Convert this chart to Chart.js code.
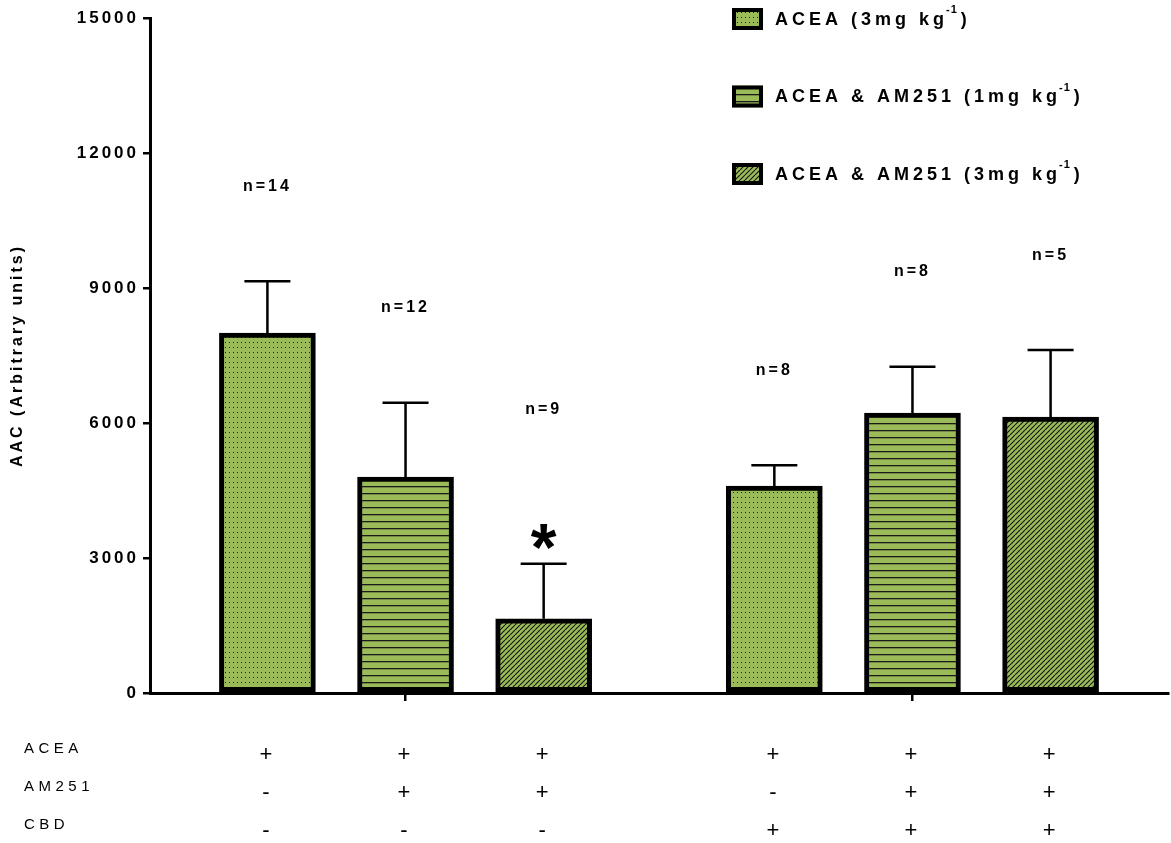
<!DOCTYPE html>
<html>
<head>
<meta charset="utf-8">
<script src="https://cdn.jsdelivr.net/npm/chart.js@4/dist/chart.umd.min.js"></script>
<style>
  html, body { margin: 0; padding: 0; background: #fff; }
  #wrap { width: 1171px; height: 843px; }
</style>
</head>
<body>
<div id="wrap"><canvas id="chart"></canvas></div>
<script>
const doseLabels = ['ACEA (3mg kg⁻¹)', 'ACEA & AM251 (1mg kg⁻¹)', 'ACEA & AM251 (3mg kg⁻¹)']
// bar positions on the x axis: three bars without CBD, then three with CBD
const barPositions = [1, 2, 3, 4.67, 5.67, 6.67]
const groupCentres = [2, 5.67]
const means = [8000, 4800, 1650, 4600, 6220, 6130]
const sems = [1150, 1650, 1220, 460, 1030, 1490]
const sampleSizes = [14, 12, 9, 8, 8, 5]
const significant = [false, false, true, false, false, false]
const treatmentRows = ['ACEA', 'AM251', 'CBD']
const aceaSigns = ['+', '+', '+', '+', '+', '+']
const am251Signs = ['-', '+', '+', '-', '+', '+']
const cbdSigns = ['-', '-', '-', '+', '+', '+']
const yTicks = [0, 3000, 6000, 9000, 12000, 15000]

const FONT = '"Liberation Sans", Arial, Helvetica, sans-serif'
const GREEN = '#9bbb59'
Chart.defaults.font.family = FONT
Chart.defaults.color = '#000'

function makePattern(kind) {
  const c = document.createElement('canvas')
  const g = c.getContext('2d')
  if (kind === 'dots') {
    c.width = 4; c.height = 5
    g.fillStyle = GREEN; g.fillRect(0, 0, 4, 5)
    g.fillStyle = '#1e2410'; g.fillRect(1, 2, 1, 1)
  } else if (kind === 'lines') {
    c.width = 8; c.height = 7
    g.fillStyle = GREEN; g.fillRect(0, 0, 8, 7)
    g.fillStyle = '#1a1a1a'; g.fillRect(0, 3, 8, 1.3)
  } else {
    c.width = 5; c.height = 5
    g.fillStyle = GREEN; g.fillRect(0, 0, 5, 5)
    g.strokeStyle = '#111'; g.lineWidth = 1.1
    g.beginPath()
    for (const o of [-5, 0, 5]) { g.moveTo(o, 5); g.lineTo(o + 5, 0) }
    g.stroke()
  }
  return g.createPattern(c, 'repeat')
}
const patterns = ['dots', 'lines', 'hatch'].map(makePattern)

// each dose appears once per group: bar s and bar s + 3
const datasets = doseLabels.map((label, s) => ({
  label,
  data: [s, s + 3].map((b) => ({ x: barPositions[b], y: means[b], bar: b })),
  backgroundColor: patterns[s],
  borderColor: '#000',
  borderWidth: 5,
  borderSkipped: false,
  barThickness: 96,
  grouped: false
}))

const errorBars = {
  id: 'errorBars',
  afterDatasetsDraw(chart) {
    const { ctx, scales: { y } } = chart
    ctx.save()
    ctx.strokeStyle = '#000'
    ctx.lineWidth = 2.5
    chart.data.datasets.forEach((ds, i) => {
      chart.getDatasetMeta(i).data.forEach((el, j) => {
        const b = ds.data[j].bar
        const top = y.getPixelForValue(means[b] + sems[b])
        ctx.beginPath()
        ctx.moveTo(el.x, el.y)
        ctx.lineTo(el.x, top)
        ctx.moveTo(el.x - 23, top)
        ctx.lineTo(el.x + 23, top)
        ctx.stroke()
      })
    })
    ctx.restore()
  }
}

const annotations = {
  id: 'annotations',
  afterDatasetsDraw(chart) {
    const { ctx, scales: { x, y } } = chart
    ctx.save()
    ctx.fillStyle = '#000'
    ctx.textAlign = 'center'
    barPositions.forEach((pos, b) => {
      const cx = x.getPixelForValue(pos)
      const top = y.getPixelForValue(means[b] + sems[b])
      ctx.letterSpacing = '3px'
      ctx.textBaseline = 'middle'
      ctx.font = `bold 16px ${FONT}`
      ctx.fillText('n=' + sampleSizes[b], cx, top - (significant[b] ? 154 : 95))
      if (significant[b]) {
        ctx.letterSpacing = '0px'
        ctx.textBaseline = 'alphabetic'
        ctx.font = `bold 66px ${FONT}`
        ctx.fillText('*', cx, top + 6)
      }
    })
    // treatment row names to the left of the +/- table
    const tickOpts = x.options.ticks
    const lineH = tickOpts.font.size * tickOpts.font.lineHeight
    const firstRow = x.top + x.options.grid.tickLength + tickOpts.padding + lineH / 2
    ctx.textAlign = 'left'
    ctx.textBaseline = 'middle'
    ctx.letterSpacing = '4.5px'
    ctx.font = `15px ${FONT}`
    treatmentRows.forEach((name, r) => ctx.fillText(name, 24, firstRow + r * lineH - 6))
    ctx.restore()
  }
}

const legendBoxes = {
  id: 'legendBoxes',
  afterDraw(chart) {
    const { ctx } = chart
    ctx.save()
    chart.data.datasets.forEach((ds, i) => {
      const top = 8 + i * 77.5
      ctx.fillStyle = ds.backgroundColor
      ctx.fillRect(732, top, 31, 22)
      ctx.strokeStyle = '#000'
      ctx.lineWidth = 4
      ctx.strokeRect(734, top + 2, 27, 18)
      const [main, rest] = ds.label.split('⁻¹')
      const yMid = top + 12
      ctx.fillStyle = '#000'
      ctx.textAlign = 'left'
      ctx.textBaseline = 'middle'
      ctx.letterSpacing = '4px'
      ctx.font = `bold 18px ${FONT}`
      let tx = 775
      ctx.fillText(main, tx, yMid)
      tx += ctx.measureText(main).width
      ctx.letterSpacing = '1px'
      ctx.font = `bold 11px ${FONT}`
      ctx.fillText('-1', tx - 2, yMid - 10)
      tx += ctx.measureText('-1').width + 1
      ctx.letterSpacing = '4px'
      ctx.font = `bold 18px ${FONT}`
      ctx.fillText(rest, tx, yMid)
    })
    ctx.restore()
  }
}

const spacing = {
  id: 'spacing',
  beforeDraw(chart) { chart.ctx.letterSpacing = '3px' }
}

new Chart(document.getElementById('chart'), {
  type: 'bar',
  data: { datasets },
  plugins: [spacing, errorBars, annotations, legendBoxes],
  options: {
    responsive: true,
    maintainAspectRatio: false,
    animation: false,
    layout: { padding: { top: 18, right: 3, left: 0, bottom: 0 } },
    plugins: { legend: { display: false }, tooltip: { enabled: false } },
    scales: {
      x: {
        type: 'linear',
        min: 0.15,
        max: 7.52,
        offset: false,
        afterBuildTicks: (axis) => { axis.ticks = barPositions.map((value) => ({ value })) },
        border: { color: '#000', width: 3 },
        grid: {
          offset: false,
          drawOnChartArea: false,
          tickLength: 8,
          lineWidth: 2.5,
          color: (ctx) => (groupCentres.includes(ctx.tick?.value) ? '#000' : 'rgba(0,0,0,0)')
        },
        ticks: {
          autoSkip: false,
          maxRotation: 0,
          padding: 35,
          color: '#000',
          font: { size: 22, lineHeight: 1.72 },
          callback: (value, i) => [aceaSigns[i], am251Signs[i], cbdSigns[i]]
        },
        afterFit: (scale) => { scale.height = 150 }
      },
      y: {
        min: 0,
        max: 15000,
        afterBuildTicks: (axis) => { axis.ticks = yTicks.map((value) => ({ value })) },
        border: { color: '#000', width: 3 },
        grid: { drawOnChartArea: false, tickLength: 7, lineWidth: 2.5, color: '#000' },
        ticks: {
          padding: 4,
          color: '#000',
          font: { size: 17, weight: 'bold' },
          callback: (value) => String(value)
        },
        title: {
          display: true,
          text: 'AAC (Arbitrary units)',
          color: '#000',
          font: { size: 16, weight: 'bold' },
          padding: { top: 8, bottom: 0 }
        },
        afterFit: (scale) => { scale.width = 150 }
      }
    }
  }
})
</script>
</body>
</html>
